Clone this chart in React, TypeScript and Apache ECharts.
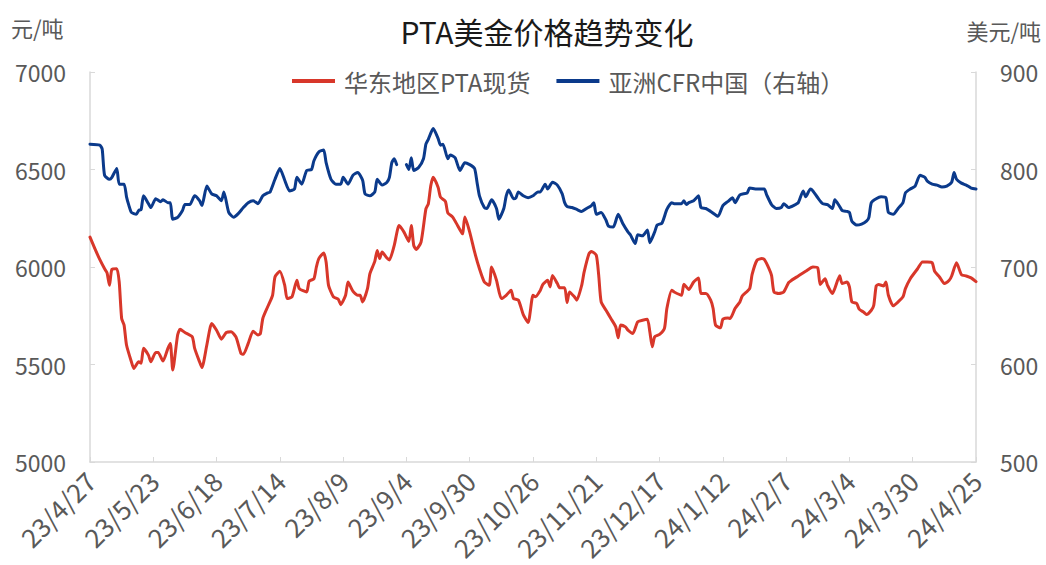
import React, { useEffect, useRef } from "react";
import * as echarts from "echarts";

// Axis categories: every calendar day from 23/4/27 to 24/4/25
const startDay = Date.UTC(2023, 3, 27);
const dayCount = 365;
const categories: string[] = [];
for (let i = 0; i < dayCount; i++) {
  const d = new Date(startDay + i * 86400000);
  categories.push(`${d.getUTCFullYear() % 100}/${d.getUTCMonth() + 1}/${d.getUTCDate()}`);
}

const leftTicks = { min: 5000, max: 7000, interval: 500 };
const rightTicks = { min: 500, max: 900, interval: 100 };

const redName = "华东地区PTA现货";
const blueName = "亚洲CFR中国（右轴）";

const redDates = ['23/4/27','23/4/29','23/5/1','23/5/3','23/5/4','23/5/5','23/5/6','23/5/8','23/5/9','23/5/10','23/5/11','23/5/12','23/5/14','23/5/15','23/5/17','23/5/18','23/5/19','23/5/21','23/5/22','23/5/24','23/5/25','23/5/27','23/5/29','23/5/30','23/5/31','23/6/2','23/6/3','23/6/5','23/6/8','23/6/9','23/6/11','23/6/12','23/6/14','23/6/16','23/6/18','23/6/20','23/6/22','23/6/24','23/6/26','23/6/28','23/6/29','23/7/1','23/7/3','23/7/5','23/7/6','23/7/7','23/7/9','23/7/11','23/7/12','23/7/14','23/7/16','23/7/17','23/7/19','23/7/21','23/7/22','23/7/25','23/7/26','23/7/28','23/7/29','23/7/30','23/8/1','23/8/2','23/8/3','23/8/5','23/8/7','23/8/8','23/8/10','23/8/11','23/8/13','23/8/15','23/8/16','23/8/17','23/8/19','23/8/20','23/8/22','23/8/23','23/8/24','23/8/25','23/8/27','23/8/28','23/8/30','23/9/1','23/9/3','23/9/5','23/9/6','23/9/7','23/9/8','23/9/10','23/9/12','23/9/13','23/9/14','23/9/15','23/9/17','23/9/18','23/9/20','23/9/21','23/9/23','23/9/25','23/9/27','23/9/28','23/9/30','23/10/2','23/10/4','23/10/6','23/10/8','23/10/9','23/10/11','23/10/13','23/10/15','23/10/17','23/10/18','23/10/20','23/10/22','23/10/24','23/10/26','23/10/27','23/10/29','23/10/30','23/11/1','23/11/2','23/11/3','23/11/5','23/11/6','23/11/8','23/11/9','23/11/10','23/11/12','23/11/13','23/11/15','23/11/16','23/11/18','23/11/19','23/11/21','23/11/22','23/11/23','23/11/25','23/11/27','23/11/29','23/11/30','23/12/1','23/12/3','23/12/4','23/12/6','23/12/8','23/12/10','23/12/12','23/12/13','23/12/14','23/12/15','23/12/17','23/12/19','23/12/20','23/12/22','23/12/23','23/12/26','23/12/27','23/12/29','23/12/31','24/1/2','24/1/3','24/1/5','24/1/7','24/1/8','24/1/9','24/1/11','24/1/12','24/1/14','24/1/15','24/1/17','24/1/19','24/1/20','24/1/23','24/1/24','24/1/26','24/1/28','24/1/29','24/1/31','24/2/1','24/2/2','24/2/4','24/2/6','24/2/8','24/2/9','24/2/12','24/2/15','24/2/18','24/2/20','24/2/21','24/2/23','24/2/24','24/2/26','24/2/27','24/2/29','24/3/1','24/3/3','24/3/4','24/3/5','24/3/7','24/3/8','24/3/10','24/3/11','24/3/13','24/3/14','24/3/15','24/3/16','24/3/18','24/3/19','24/3/20','24/3/22','24/3/24','24/3/26','24/3/27','24/3/29','24/4/1','24/4/3','24/4/5','24/4/7','24/4/8','24/4/10','24/4/12','24/4/14','24/4/15','24/4/17','24/4/19','24/4/21','24/4/23','24/4/25'];
const redValues = [6153,6094,6039,5991,5970,5906,5988,5991,5923,5736,5702,5600,5514,5480,5514,5506,5583,5548,5514,5562,5562,5518,5583,5608,5472,5651,5681,5664,5642,5583,5514,5484,5600,5710,5676,5630,5664,5668,5640,5557,5552,5608,5671,5651,5659,5736,5796,5855,5949,5978,5906,5838,5847,5932,5889,5872,5927,5940,6000,6043,6072,6026,5906,5847,5835,5807,5855,5923,5876,5855,5855,5821,5889,5966,6029,6085,6043,6077,6046,6036,6111,6213,6179,6131,6213,6111,6090,6128,6298,6324,6417,6460,6409,6358,6336,6278,6256,6213,6170,6256,6179,6077,5991,5923,5906,6000,5932,5838,5855,5881,5838,5830,5756,5715,5855,5847,5880,5910,5932,5898,5957,5915,5893,5893,5818,5872,5847,5830,5906,5974,6068,6080,6060,5957,5821,5778,5736,5693,5637,5702,5693,5676,5659,5719,5727,5732,5668,5591,5642,5654,5685,5787,5881,5872,5855,5912,5885,5923,5944,5864,5864,5830,5787,5702,5688,5732,5739,5736,5787,5821,5852,5889,5961,6034,6043,6039,5991,5957,5872,5864,5872,5920,5930,5954,5978,6000,5995,5910,5940,5906,5864,5890,5955,5915,5923,5898,5821,5813,5784,5767,5756,5778,5804,5903,5910,5903,5923,5855,5801,5821,5847,5889,5940,5991,6026,6026,6022,5978,5949,5915,5932,5954,6022,5961,5954,5944,5925];

const blueDates = ['23/4/27','23/5/1','23/5/2','23/5/3','23/5/5','23/5/6','23/5/8','23/5/9','23/5/11','23/5/12','23/5/13','23/5/14','23/5/16','23/5/17','23/5/18','23/5/19','23/5/21','23/5/22','23/5/24','23/5/26','23/5/27','23/5/29','23/5/30','23/5/31','23/6/2','23/6/4','23/6/5','23/6/7','23/6/9','23/6/11','23/6/12','23/6/14','23/6/16','23/6/18','23/6/20','23/6/21','23/6/23','23/6/25','23/6/27','23/6/29','23/7/1','23/7/3','23/7/5','23/7/7','23/7/9','23/7/10','23/7/12','23/7/14','23/7/16','23/7/18','23/7/20','23/7/21','23/7/23','23/7/25','23/7/27','23/7/28','23/7/30','23/8/1','23/8/2','23/8/4','23/8/6','23/8/8','23/8/9','23/8/11','23/8/13','23/8/15','23/8/17','23/8/18','23/8/20','23/8/22','23/8/23','23/8/25','23/8/27','23/8/28','23/8/29','23/8/30','23/8/31','23/9/2','23/9/4','23/9/5','23/9/6','23/9/7','23/9/9','23/9/11','23/9/12','23/9/13','23/9/15','23/9/17','23/9/18','23/9/19','23/9/21','23/9/22','23/9/24','23/9/26','23/9/28','23/9/30','23/10/2','23/10/3','23/10/4','23/10/6','23/10/7','23/10/9','23/10/11','23/10/12','23/10/14','23/10/15','23/10/16','23/10/18','23/10/19','23/10/20','23/10/22','23/10/24','23/10/26','23/10/28','23/10/29','23/10/31','23/11/1','23/11/3','23/11/5','23/11/7','23/11/8','23/11/9','23/11/11','23/11/13','23/11/15','23/11/17','23/11/19','23/11/20','23/11/21','23/11/23','23/11/25','23/11/26','23/11/28','23/11/30','23/12/2','23/12/4','23/12/5','23/12/7','23/12/8','23/12/10','23/12/12','23/12/13','23/12/15','23/12/16','23/12/18','23/12/20','23/12/22','23/12/23','23/12/26','23/12/27','23/12/28','23/12/29','23/12/31','24/1/2','24/1/3','24/1/5','24/1/7','24/1/10','24/1/12','24/1/14','24/1/16','24/1/17','24/1/19','24/1/22','24/1/23','24/1/26','24/1/29','24/1/30','24/2/1','24/2/3','24/2/5','24/2/6','24/2/8','24/2/10','24/2/12','24/2/14','24/2/15','24/2/17','24/2/18','24/2/20','24/2/22','24/2/24','24/2/26','24/2/27','24/2/29','24/3/1','24/3/3','24/3/4','24/3/5','24/3/7','24/3/9','24/3/11','24/3/12','24/3/13','24/3/15','24/3/17','24/3/19','24/3/20','24/3/22','24/3/24','24/3/26','24/3/27','24/3/29','24/3/31','24/4/2','24/4/4','24/4/5','24/4/7','24/4/9','24/4/11','24/4/13','24/4/15','24/4/16','24/4/17','24/4/19','24/4/21','24/4/23','24/4/25'];
const blueValues: (number | null)[] = [826,825,821,794,790,792,801,785,785,772,763,756,754,758,759,773,765,761,770,767,769,766,766,749,751,758,764,764,773,768,763,783,775,773,768,777,756,751,755,761,766,768,765,773,776,777,790,801,789,778,780,792,785,799,800,809,818,820,807,790,785,785,792,785,794,797,789,775,773,777,790,784,787,792,807,811,805,null,805,800,812,799,802,811,826,831,842,832,825,826,811,815,812,799,807,805,801,787,773,761,760,769,760,749,760,773,779,770,771,777,773,771,773,777,777,785,780,787,784,775,766,762,761,759,757,760,763,766,754,756,748,742,741,754,744,736,733,724,733,732,738,725,736,743,745,759,766,765,765,768,764,766,768,773,761,760,757,752,763,767,771,766,774,776,781,780,780,774,764,760,761,765,761,763,766,778,772,780,778,771,765,764,760,769,762,758,757,756,747,743,744,747,751,766,770,772,771,756,754,760,766,776,780,783,794,792,788,785,784,782,783,787,797,790,786,784,781,780];

const redColor = "#d8372a";
const blueColor = "#0b3a8b";
const axisGray = "#d9d9d9";
const textGray = "#595959";
const font = "'Noto Sans CJK SC', 'Noto Sans', sans-serif";

export default function App() {
  const ref = useRef<HTMLDivElement>(null);
  useEffect(() => {
    if (!ref.current) return;
    const chart = echarts.init(ref.current, undefined, { renderer: "svg" });
    const redData = redDates.map((d, i) => [d, redValues[i]]);
    const blueData = blueDates.map((d, i) => [d, blueValues[i] === null ? "-" : blueValues[i]]);
    chart.setOption({
      animation: false,
      backgroundColor: "#ffffff",
      textStyle: { fontFamily: font },
      title: {
        text: "PTA美金价格趋势变化",
        left: 542,
        textAlign: "center",
        top: 11,
        textStyle: { fontSize: 30, fontWeight: "normal", color: "#1a1a1a", fontFamily: font },
      },
      legend: {
        left: 287,
        top: 64,
        icon: "rect",
        itemWidth: 43,
        itemHeight: 4,
        itemGap: 26,
        textStyle: { fontSize: 24, color: textGray, fontFamily: font, padding: [0, 0, 0, 4] },
        data: [redName, blueName],
      },
      graphic: [
        { type: "text", left: 11, top: 16, style: { text: "元/吨", fontSize: 22, fill: textGray, fontFamily: font } },
        { type: "text", right: 5, top: 19, style: { text: "美元/吨", fontSize: 22, fill: textGray, fontFamily: font } },
      ],
      grid: { left: 90, right: 70, top: 72, bottom: 103, containLabel: false },
      xAxis: {
        type: "category",
        data: categories,
        boundaryGap: false,
        axisLine: { lineStyle: { color: axisGray, width: 1.5 } },
        axisTick: { show: true, inside: true, length: 5, interval: 25, lineStyle: { color: axisGray } },
        axisLabel: { interval: 25, rotate: 45, fontSize: 26, color: textGray, margin: 14, fontFamily: font },
        splitLine: { show: false },
      },
      yAxis: [
        {
          type: "value",
          ...leftTicks,
          axisLine: { show: true, lineStyle: { color: axisGray, width: 1.5 } },
          axisTick: { show: true, inside: true, length: 5, lineStyle: { color: axisGray } },
          axisLabel: { fontSize: 23, color: textGray, margin: 24, fontFamily: font, formatter: (v: number) => String(v) },
          splitLine: { show: false },
        },
        {
          type: "value",
          ...rightTicks,
          position: "right",
          axisLine: { show: true, lineStyle: { color: axisGray, width: 1.5 } },
          axisTick: { show: true, inside: true, length: 5, lineStyle: { color: axisGray } },
          axisLabel: { fontSize: 23, color: textGray, margin: 24, fontFamily: font, formatter: (v: number) => String(v) },
          splitLine: { show: false },
        },
      ],
      series: [
        {
          name: redName,
          type: "line",
          yAxisIndex: 0,
          data: redData,
          showSymbol: false,
          symbol: "none",
          smooth: 0.2,
          connectNulls: false,
          itemStyle: { color: redColor },
          lineStyle: { color: redColor, width: 3, cap: "round", join: "round" },
        },
        {
          name: blueName,
          type: "line",
          yAxisIndex: 1,
          data: blueData,
          showSymbol: false,
          symbol: "none",
          smooth: 0.2,
          connectNulls: false,
          itemStyle: { color: blueColor },
          lineStyle: { color: blueColor, width: 3, cap: "round", join: "round" },
        },
      ],
    });
    return () => chart.dispose();
  }, []);
  return (
    <div
      ref={ref}
      style={{ position: "fixed", left: 0, top: 0, width: 1046, height: 565, background: "#fff" }}
    />
  );
}
